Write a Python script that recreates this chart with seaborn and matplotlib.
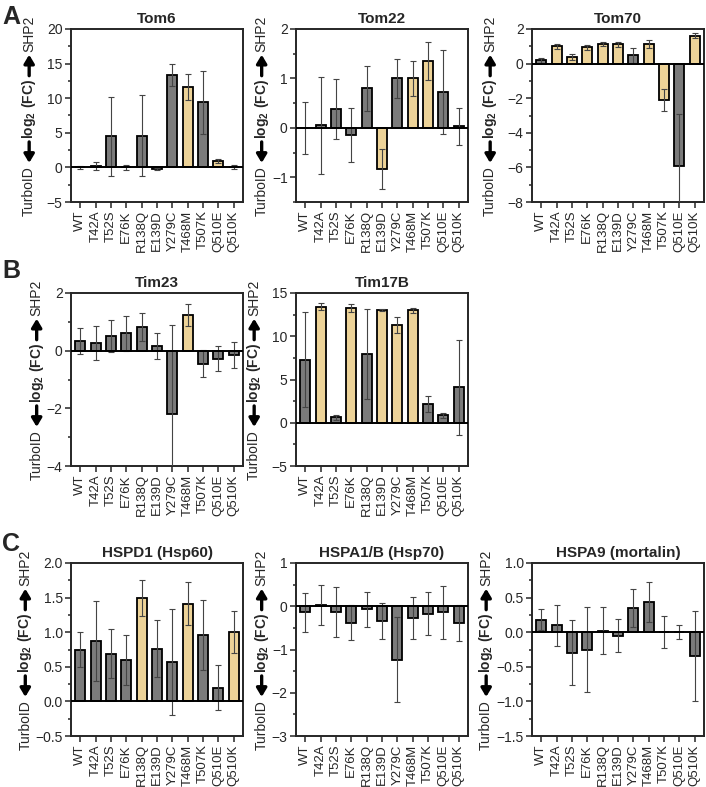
import numpy as np
import pandas as pd
import matplotlib
matplotlib.use("Agg")
import matplotlib.pyplot as plt
from matplotlib.ticker import MultipleLocator
import seaborn as sns

# mutants on the x axis
mutants = ['WT', 'T42A', 'T52S', 'E76K', 'R138Q', 'E139D',
           'Y279C', 'T468M', 'T507K', 'Q510E', 'Q510K']

# mean log2(FC) and error per protein
tom6_mean = [0.0, 0.2, 4.5, 0.0, 4.6, -0.2, 13.4, 11.6, 9.4, 0.9, 0.0]
tom6_err = [0.2, 0.6, 5.7, 0.35, 5.8, 0.15, 1.6, 1.9, 4.6, 0.3, 0.3]
tom6_sig = [0, 0, 0, 0, 0, 0, 0, 1, 0, 1, 0]

tom22_mean = [0.0, 0.05, 0.38, -0.14, 0.8, -0.83, 1.0, 1.0, 1.35, 0.72, 0.03]
tom22_err = [0.53, 0.98, 0.6, 0.55, 0.45, 0.4, 0.4, 0.36, 0.39, 0.85, 0.38]
tom22_sig = [0, 0, 0, 0, 0, 1, 0, 1, 1, 0, 0]

tom70_mean = [0.2, 1.0, 0.38, 0.95, 1.15, 1.12, 0.47, 1.15, -2.1, -5.9, 1.62]
tom70_err = [0.15, 0.15, 0.15, 0.15, 0.12, 0.15, 0.43, 0.22, 0.65, 3.0, 0.12]
tom70_sig = [0, 1, 1, 1, 1, 1, 0, 1, 1, 0, 1]

tim23_mean = [0.32, 0.27, 0.5, 0.6, 0.83, 0.17, -2.2, 1.25, -0.45, -0.28, -0.15]
tim23_err = [0.45, 0.6, 0.55, 0.6, 0.48, 0.45, 3.1, 0.38, 0.47, 0.43, 0.44]
tim23_sig = [0, 0, 0, 0, 0, 0, 0, 1, 0, 0, 0]

tim17b_mean = [7.3, 13.4, 0.65, 13.3, 7.95, 13.0, 11.3, 13.0, 2.15, 0.85, 4.1]
tim17b_err = [5.5, 0.4, 0.3, 0.45, 5.2, 0.1, 0.95, 0.3, 0.9, 0.25, 5.5]
tim17b_sig = [0, 1, 0, 1, 0, 1, 1, 1, 0, 0, 0]

hspd1_mean = [0.75, 0.87, 0.69, 0.6, 1.5, 0.76, 0.57, 1.41, 0.96, 0.2, 1.0]
hspd1_err = [0.25, 0.58, 0.35, 0.36, 0.26, 0.41, 0.76, 0.31, 0.5, 0.32, 0.3]
hspd1_sig = [0, 0, 0, 0, 1, 0, 0, 1, 0, 0, 1]

hspa1_mean = [-0.14, 0.02, -0.13, -0.38, -0.07, -0.34, -1.24, -0.27, -0.17, -0.14, -0.38]
hspa1_err = [0.45, 0.46, 0.58, 0.41, 0.4, 0.42, 0.98, 0.48, 0.49, 0.61, 0.42]
hspa1_sig = [0] * 11

hspa9_mean = [0.18, 0.1, -0.3, -0.25, 0.02, -0.05, 0.35, 0.44, 0.0, 0.0, -0.34]
hspa9_err = [0.15, 0.3, 0.47, 0.62, 0.34, 0.24, 0.27, 0.29, 0.23, 0.1, 0.65]
hspa9_sig = [0] * 11

sns.set_style("ticks")
plt.rcParams['font.family'] = ['Liberation Sans', 'DejaVu Sans']
plt.rcParams['mathtext.fontset'] = 'custom'
plt.rcParams['mathtext.rm'] = 'Liberation Sans'
plt.rcParams['mathtext.bf'] = 'Liberation Sans:bold'

grey = '#7b7b7b'
yellow = '#fbd98a'

# title, mean, err, sig, ylim, major, minor, axes box in px (left, top)
panels = [
    ('Tom6', tom6_mean, tom6_err, tom6_sig, (-5, 20), 5, 2.5, 71, 29),
    ('Tom22', tom22_mean, tom22_err, tom22_sig, (-1.5, 2), 1, 0.5, 296, 29),
    ('Tom70', tom70_mean, tom70_err, tom70_sig, (-8, 2), 2, 1, 532, 29),
    ('Tim23', tim23_mean, tim23_err, tim23_sig, (-4, 2), 2, 1, 71, 293),
    ('Tim17B', tim17b_mean, tim17b_err, tim17b_sig, (-5, 15), 5, 2.5, 296, 293),
    ('HSPD1 (Hsp60)', hspd1_mean, hspd1_err, hspd1_sig, (-0.5, 2), 0.5, 0.25, 71, 563),
    ('HSPA1/B (Hsp70)', hspa1_mean, hspa1_err, hspa1_sig, (-3, 1), 1, 0.5, 296, 563),
    ('HSPA9 (mortalin)', hspa9_mean, hspa9_err, hspa9_sig, (-1.5, 1), 0.5, 0.25, 532, 563),
]

W, H = 706, 787
fig = plt.figure(figsize=(W / 100, H / 100), dpi=100)
aw, ah = 172, 173


def arrow_ylabel(ax, renderer, size=10, arrow_len=21, gap=3, pad=3):
    # "TurboID <- log2 (FC) -> SHP2", drawn as pieces with thick arrows
    bbox = ax.get_window_extent(renderer)
    tick_x0 = min(t.get_window_extent(renderer).x0 for t in ax.get_yticklabels()
                  if t.get_text())
    parts = [('TurboID', 'normal'), (r'$\mathbf{log_2\ (FC)}$', 'bold'), ('SHP2', 'normal')]
    texts = [ax.text(0, 0, s, rotation=90, ha='center', va='bottom',
                     fontsize=size, fontweight=w, transform=ax.transAxes, clip_on=False)
             for s, w in parts]
    ext = [t.get_window_extent(renderer) for t in texts]
    half_w = ext[0].width / 2
    xdisp = tick_x0 - pad - half_w
    to_ax = ax.transAxes.inverted()
    xfrac = to_ax.transform((xdisp, 0))[0]
    slot = arrow_len + 2 * gap
    total = sum(e.height for e in ext) + 2 * slot
    y = bbox.y0 + bbox.height / 2 - total / 2
    for i, t in enumerate(texts):
        t.set_position((xfrac, to_ax.transform((xdisp, y))[1]))
        y += ext[i].height
        if i < 2:
            ya = to_ax.transform((xdisp, y + gap))[1]
            yb = to_ax.transform((xdisp, y + gap + arrow_len))[1]
            start, end = (ya, yb) if i == 1 else (yb, ya)
            ax.annotate('', xy=(xfrac, end), xytext=(xfrac, start), xycoords='axes fraction',
                        arrowprops=dict(arrowstyle='-|>,head_length=0.5,head_width=0.3',
                                        lw=2.4, color='black', shrinkA=0, shrinkB=0),
                        annotation_clip=False)
            y += slot


axes = []
for title, mean, err, sig, ylim, major, minor, left, top in panels:
    ax = fig.add_axes([left / W, 1 - (top + ah) / H, aw / W, ah / H])
    df = pd.DataFrame({'mutant': mutants, 'mean': mean,
                       'group': ['sig' if s else 'ns' for s in sig]})
    sns.barplot(data=df, x='mutant', y='mean', hue='group',
                palette={'ns': grey, 'sig': yellow}, order=mutants,
                hue_order=['ns', 'sig'], dodge=False, width=0.65,
                edgecolor='black', linewidth=1.3, legend=False, ax=ax, zorder=2)
    ax.errorbar(np.arange(len(mutants)), mean, yerr=err, fmt='none',
                ecolor='#444444', elinewidth=0.8, capsize=2.5, capthick=0.8, zorder=3)
    ax.axhline(0, color='black', lw=1.4, zorder=4)
    ax.set_ylim(*ylim)
    ax.set_xlim(-0.6, len(mutants) - 0.4)
    ax.yaxis.set_major_locator(MultipleLocator(major))
    ax.yaxis.set_minor_locator(MultipleLocator(minor))
    ax.tick_params(axis='both', which='major', length=4.5, width=1.1, pad=1.5)
    ax.tick_params(axis='x', labelsize=9.5, labelrotation=90)
    ax.tick_params(axis='y', labelsize=10)
    ax.tick_params(axis='y', which='minor', length=2.5, width=1.1)
    for s in ax.spines.values():
        s.set_linewidth(1.4)
    ax.set_xlabel('')
    ax.set_ylabel('')
    ax.set_title(title, fontsize=11, fontweight='bold', pad=4)
    axes.append(ax)

fig.canvas.draw()
renderer = fig.canvas.get_renderer()
for ax in axes:
    arrow_ylabel(ax, renderer)

for letter, y in [('A', 17), ('B', 271), ('C', 544)]:
    fig.text(2 / W, 1 - y / H, letter, fontsize=18, fontweight='bold', va='center')

fig.savefig('out.png', dpi=100)
